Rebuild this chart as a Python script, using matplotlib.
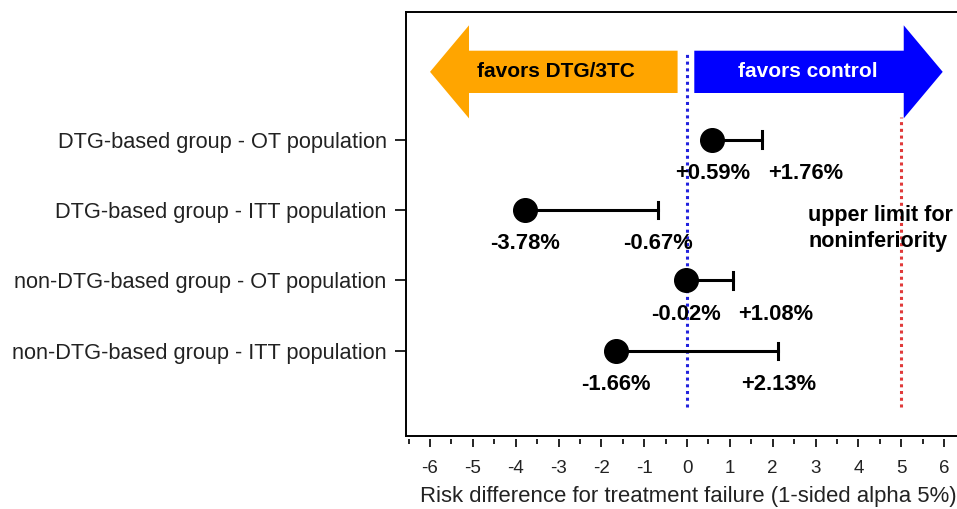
import matplotlib
matplotlib.use("Agg")
import matplotlib.pyplot as plt
from matplotlib.patches import FancyArrow
from matplotlib.ticker import MultipleLocator

plt.rcParams['font.family'] = ['Liberation Sans', 'DejaVu Sans']

# ---- data ----
categories = ["DTG-based group - OT population",
              "DTG-based group - ITT population",
              "non-DTG-based group - OT population",
              "non-DTG-based group - ITT population"]
point_est = [0.59, -3.78, -0.02, -1.66]
upper_ci = [1.76, -0.67, 1.08, 2.13]
point_labels = ["+0.59%", "-3.78%", "-0.02%", "-1.66%"]
upper_labels = ["+1.76%", "-0.67%", "+1.08%", "+2.13%"]
noninf_limit = 5
xticks = list(range(-6, 7))

# ---- layout ----
upper_label_shift = [1.0, 0.0, 1.0, 0.0]   # horizontal shift of upper labels (data units)
label_drop = 0.48

fig = plt.figure(figsize=(9.57, 5.09), dpi=100)
ax = fig.add_axes([406/957, 1-436/509, (958-406)/957, (436-12)/509])

ypos = [3, 2, 1, 0]
ax.set_xlim(-6.561, 6.327)
ax.set_ylim(-1.206, 4.809)

# reference lines
ax.plot([0, 0], [-0.79, 4.23], linestyle=(0, (1, 1.2)), color='#2222dd', lw=2.2, zorder=1)
ax.plot([noninf_limit, noninf_limit], [-0.79, 3.32], linestyle=(0, (1, 1.2)),
        color='#e03a3a', lw=2.2, zorder=1)

# arrows
ay = 3.96
ax.add_patch(FancyArrow(-0.22, ay, -6.0 + 0.22, 0, width=0.6, head_width=1.32,
                        head_length=0.91, length_includes_head=True,
                        color='#ffa500', lw=0, zorder=2))
ax.add_patch(FancyArrow(0.17, ay, 5.97 - 0.17, 0, width=0.6, head_width=1.32,
                        head_length=0.91, length_includes_head=True,
                        color='#0000ff', lw=0, zorder=2))
ax.text(-3.06, ay, "favors DTG/3TC", ha='center', va='center', fontsize=15,
        fontweight='bold', color='black', zorder=3)
ax.text(2.83, ay, "favors control", ha='center', va='center', fontsize=15,
        fontweight='bold', color='white', zorder=3)

# estimates
for y, p, u, pl, ul, sh in zip(ypos, point_est, upper_ci, point_labels, upper_labels,
                               upper_label_shift):
    ax.plot([p, u], [y, y], color='black', lw=2.2, zorder=4)
    ax.plot([u, u], [y - 0.115, y + 0.115], color='black', lw=2.2, zorder=4)
    ax.plot([p], [y], 'o', color='black', markersize=17, zorder=5)
    ax.text(p, y - label_drop, pl, ha='center', va='center', fontsize=15.8,
            fontweight='bold', zorder=6)
    ax.text(u + sh, y - label_drop, ul, ha='center', va='center', fontsize=15.8,
            fontweight='bold', zorder=6)

ax.text(2.83, 1.74, "upper limit for\nnoninferiority", ha='left', va='center',
        fontsize=15.5, fontweight='bold', linespacing=1.28)

# axes styling
ax.set_yticks(ypos)
ax.set_yticklabels(categories)
ax.tick_params(axis='y', direction='out', length=8, width=1.2, pad=6,
               labelsize=15.7, labelcolor='#222222')

ax.set_xticks(xticks)
ax.set_xticklabels([str(t) for t in xticks])
ax.xaxis.set_minor_locator(MultipleLocator(0.5))
ax.tick_params(axis='x', which='major', direction='out', length=6, width=1.2, pad=9,
               labelsize=13.5, labelcolor='#222222')
ax.tick_params(axis='x', which='minor', direction='out', length=3.5, width=1.2)
ax.set_xlabel("Risk difference for treatment failure (1-sided alpha 5%)",
              fontsize=15.9, color='#222222')
ax.xaxis.set_label_coords((688 - 406) / (958 - 406), -0.142)
ax.xaxis.label.set_va('center')

ax.spines['right'].set_visible(False)
ax.spines['bottom'].set_position(('outward', 2))
ax.spines['bottom'].set_visible(False)
for s in ['top', 'left']:
    ax.spines[s].set_linewidth(1.4)
ax.plot([0, 1], [0, 0], transform=ax.transAxes, color='black', lw=1.4, clip_on=False)

fig.savefig("out.png", dpi=100)
